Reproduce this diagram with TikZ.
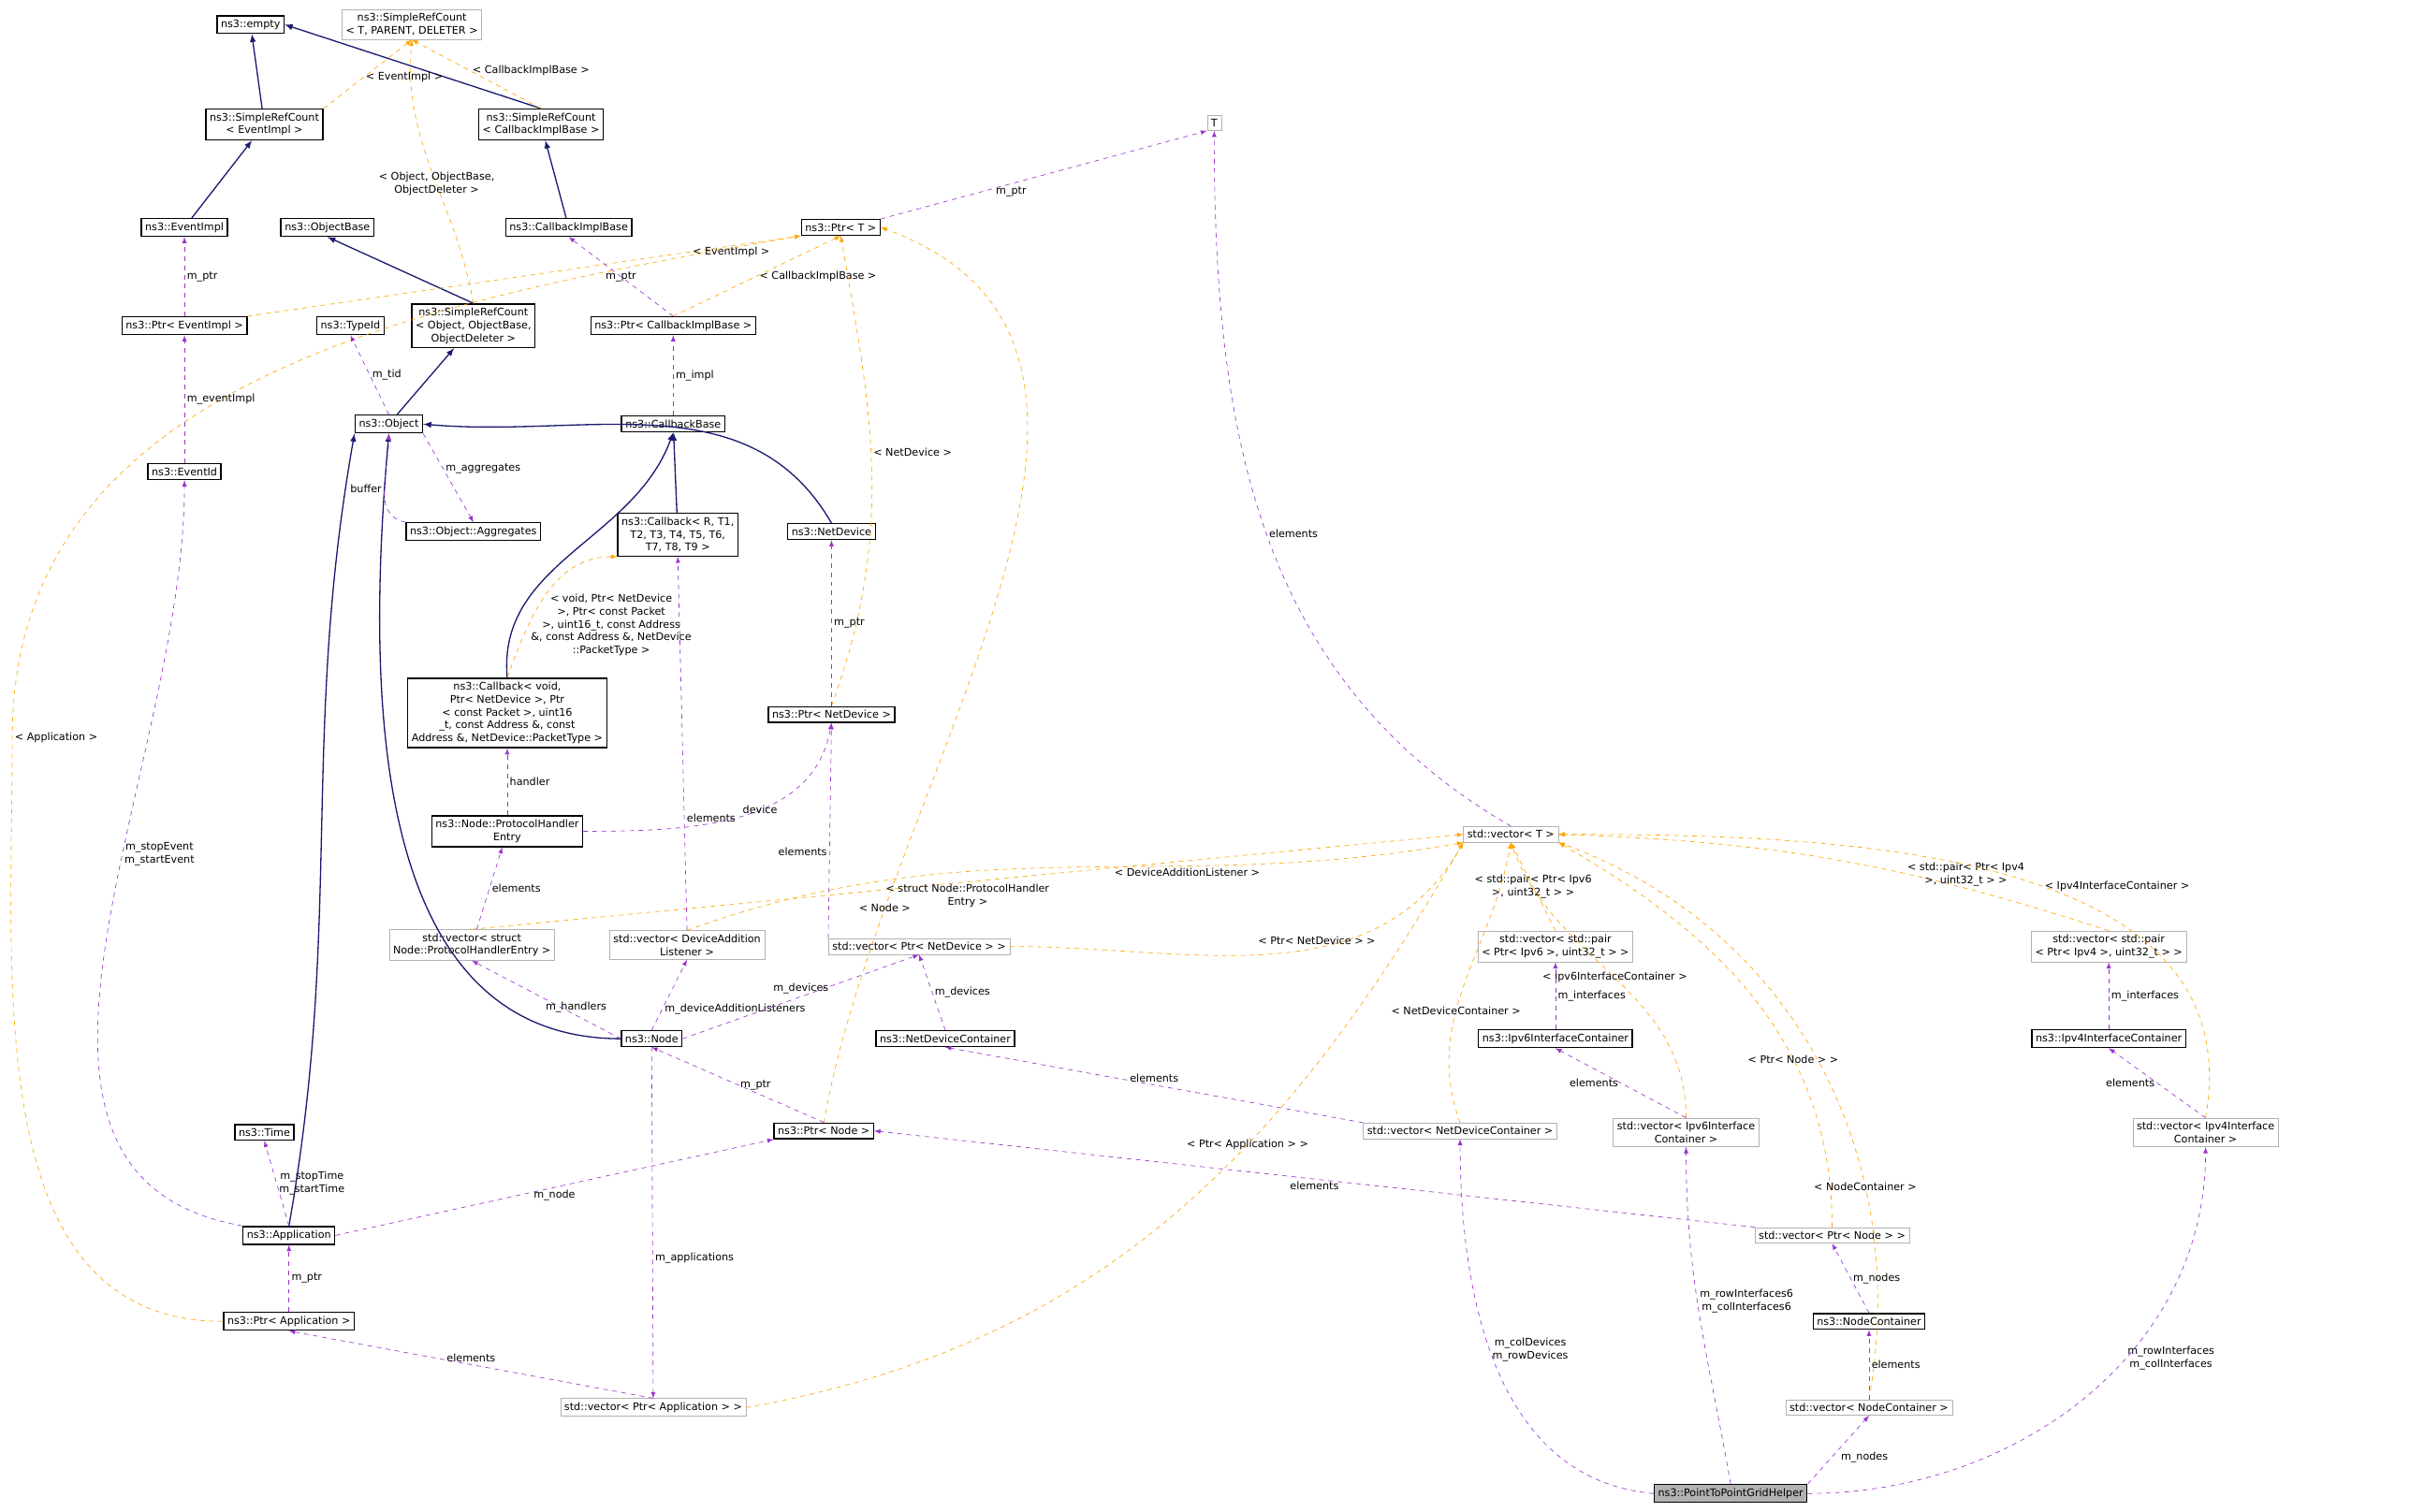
\documentclass[tikz,border=0pt]{standalone}
\usepackage{fontspec}
\setmainfont{DejaVu Sans}
\usetikzlibrary{arrows,positioning}
\definecolor{inhcol}{HTML}{191970}
\definecolor{usecol}{HTML}{9A32CD}
\definecolor{tplcol}{HTML}{FFA500}
\begin{document}
\begin{tikzpicture}[
        x=1pt,y=-1pt,
        cls/.style={
          draw=black,
          fill=white,
          font=\fontsize{6.8}{8.4}\selectfont,
          align=center,
          inner sep=2.5pt,
          thick
          },
        ext/.style={cls,draw=gray!60,thin},
        hl/.style={cls,fill=gray!60},
        inh/.style={draw=inhcol,thick,->},
        use/.style={draw=usecol,dashed,->},
        tpl/.style={draw=tplcol,dashed,->},
        lbl/.style={font=\fontsize{6.8}{8.4}\selectfont,align=center,inner sep=1.5pt},
        >=latex
        ]
        \useasboundingbox (0,0) rectangle (1568,984);
        % top rows
        \node[cls] (empty) at (163,16) {ns3::empty};
        \node[ext] (srct) at (268,16) {ns3::SimpleRefCount\\< T, PARENT, DELETER >};
        \node[cls] (srcev) at (172,81) {ns3::SimpleRefCount\\< EventImpl >};
        \node[cls] (srccb) at (352,81) {ns3::SimpleRefCount\\< CallbackImplBase >};
        \node[ext] (T) at (790,80) {T};
        \node[cls] (evimpl) at (120,148) {ns3::EventImpl};
        \node[cls] (objbase) at (213,148) {ns3::ObjectBase};
        \node[cls] (cbimpl) at (370,148) {ns3::CallbackImplBase};
        \node[cls] (ptrt) at (547,148) {ns3::Ptr< T >};
        \node[cls] (ptrev) at (120,212) {ns3::Ptr< EventImpl >};
        \node[cls] (srcobj) at (308,212) {ns3::SimpleRefCount\\< Object, ObjectBase,\\ObjectDeleter >};
        \node[cls] (typeid) at (228,212) {ns3::TypeId};
        \node[cls] (ptrcb) at (438,212) {ns3::Ptr< CallbackImplBase >};
        \node[cls] (object) at (253,276) {ns3::Object};
        \node[cls] (cbbase) at (438,276) {ns3::CallbackBase};
        \node[cls] (eventid) at (120,307) {ns3::EventId};
        \node[cls] (aggr) at (308,346) {ns3::Object::Aggregates};
        \node[cls] (cbr) at (441,348) {ns3::Callback< R, T1,\\T2, T3, T4, T5, T6,\\T7, T8, T9 >};
        \node[cls] (netdev) at (541,346) {ns3::NetDevice};
        \node[cls] (cbvoid) at (330,464) {ns3::Callback< void,\\Ptr< NetDevice >, Ptr\\< const Packet >, uint16\\\_t, const Address \&, const\\Address \&, NetDevice::PacketType >};
        \node[cls] (ptrnd) at (541,465) {ns3::Ptr< NetDevice >};
        \node[cls] (phe) at (330,541) {ns3::Node::ProtocolHandler\\Entry};
        \node[ext] (vect) at (983,543) {std::vector< T >};
        % vectors
        \node[ext] (vphe) at (307,615) {std::vector< struct\\Node::ProtocolHandlerEntry >};
        \node[ext] (vdal) at (447,615) {std::vector< DeviceAddition\\Listener >};
        \node[ext] (vpnd) at (598,616) {std::vector< Ptr< NetDevice > >};
        \node[ext] (vp6) at (1012,616) {std::vector< std::pair\\< Ptr< Ipv6 >, uint32\_t > >};
        \node[ext] (vp4) at (1372,616) {std::vector< std::pair\\< Ptr< Ipv4 >, uint32\_t > >};
        \node[cls] (node) at (424,676) {ns3::Node};
        \node[cls] (ndc) at (615,676) {ns3::NetDeviceContainer};
        \node[cls] (ic6) at (1012,676) {ns3::Ipv6InterfaceContainer};
        \node[cls] (ic4) at (1372,676) {ns3::Ipv4InterfaceContainer};
        \node[cls] (time) at (172,737) {ns3::Time};
        \node[cls] (ptrnode) at (536,736) {ns3::Ptr< Node >};
        \node[ext] (vndc) at (950,736) {std::vector< NetDeviceContainer >};
        \node[ext] (vic6) at (1097,737) {std::vector< Ipv6Interface\\Container >};
        \node[ext] (vic4) at (1435,737) {std::vector< Ipv4Interface\\Container >};
        \node[cls] (app) at (188,804) {ns3::Application};
        \node[ext] (vpnode) at (1192,804) {std::vector< Ptr< Node > >};
        \node[cls] (ptrapp) at (188,860) {ns3::Ptr< Application >};
        \node[cls] (nc) at (1216,860) {ns3::NodeContainer};
        \node[ext] (vpapp) at (425,916) {std::vector< Ptr< Application > >};
        \node[ext] (vnc) at (1216,916) {std::vector< NodeContainer >};
        \node[hl] (grid) at (1126,972) {ns3::PointToPointGridHelper};
        % inheritance
        \draw[inh] (srcev) -- (empty);
        \draw[inh] (srccb.north) -- (empty.east);
        \draw[inh] (evimpl) -- (srcev);
        \draw[inh] (cbimpl) -- (srccb);
        \draw[inh] (srcobj.north) -- (objbase.south);
        \draw[inh] (object) -- (srcobj);
        \draw[inh] (cbr) -- (cbbase);
        \draw[inh] (cbvoid.north) to[out=95,in=-110] (cbbase.south);
        \draw[inh] (netdev.north) to[out=120,in=-5] (object.east);
        \draw[inh] (node.west) to[out=180,in=-95] (object.south);
        \draw[inh] (app.north) to[out=80,in=-100] (object.south west);
        % templates
        \draw[tpl] (srcev.north east) -- node[lbl,right,pos=0.45] {< EventImpl >} (srct.south);
        \draw[tpl] (srccb.north) -- node[lbl,right,pos=0.55] {< CallbackImplBase >} (srct.south);
        \draw[tpl] (srcobj.north) to[out=100,in=-95] node[lbl,pos=0.45] {< Object, ObjectBase,\\ObjectDeleter >} (srct.south);
        \draw[tpl] (ptrev.north east) -- node[lbl,right,pos=0.8] {< EventImpl >} (ptrt.south west);
        \draw[tpl] (ptrcb.north) -- node[lbl,right,pos=0.5] {< CallbackImplBase >} (ptrt.south);
        \draw[tpl] (ptrnd.north) to[out=70,in=-80] node[lbl,pos=0.55,right] {< NetDevice >} (ptrt.south);
        \draw[tpl] (ptrnode.north) to[out=80,in=-20] node[lbl,pos=0.2] {< Node >} (ptrt.east);
        \draw[tpl] (ptrapp.west) to[out=180,in=-90] (8,480) node[lbl,right] {< Application >} to[out=90,in=190] (ptrt.south west);
        \draw[tpl] (cbvoid.north) to[out=70,in=180] node[lbl,right,pos=0.3] {< void, Ptr< NetDevice\\>, Ptr< const Packet\\>, uint16\_t, const Address\\\&, const Address \&, NetDevice\\::PacketType >} (cbr.south west);
        \draw[tpl] (vphe.north) -- node[lbl,below,pos=0.5] {< struct Node::ProtocolHandler\\Entry >} (vect.west);
        \draw[tpl] (vdal.north) to[out=20,in=190] node[lbl,below,pos=0.66] {< DeviceAdditionListener >} (vect.south west);
        \draw[tpl] (vpnd.east) to[out=0,in=-120] node[lbl,above,pos=0.6] {< Ptr< NetDevice > >} (vect.south west);
        \draw[tpl] (vp6.north) -- node[lbl,pos=0.5] {< std::pair< Ptr< Ipv6\\>, uint32\_t > >} (vect.south);
        \draw[tpl] (vp4.north) to[bend right=8] node[lbl,pos=0.25,above] {< std::pair< Ptr< Ipv4\\>, uint32\_t > >} (vect.east);
        \draw[tpl] (vndc.north) to[out=110,in=-100] node[lbl,pos=0.4] {< NetDeviceContainer >} (vect.south);
        \draw[tpl] (vic6.north) to[out=90,in=-70] node[lbl,pos=0.5] {< Ipv6InterfaceContainer >} (vect.south);
        \draw[tpl] (vic4.north) to[out=80,in=0] node[lbl,pos=0.45,right] {< Ipv4InterfaceContainer >} (vect.east);
        \draw[tpl] (vpnode.north) to[out=90,in=-30] node[lbl,pos=0.35] {< Ptr< Node > >} (vect.south east);
        \draw[tpl] (vnc.north) to[out=80,in=-20] node[lbl,pos=0.3] {< NodeContainer >} (vect.south east);
        \draw[tpl] (vpapp.east) to[out=10,in=-120] node[lbl,pos=0.62] {< Ptr< Application > >} (vect.south west);
        % members
        \draw[use] (vect.north) to[out=150,in=-90] node[lbl,pos=0.5,right] {elements} (T.south);
        \draw[use] (ptrt.north east) -- node[lbl,below,pos=0.4] {m\_ptr} (T.south west);
        \draw[use] (ptrev) -- node[lbl,right] {m\_ptr} (evimpl);
        \draw[use] (eventid) -- node[lbl,right] {m\_eventImpl} (ptrev);
        \draw[use] (ptrcb.north) -- node[lbl,pos=0.5] {m\_ptr} (cbimpl.south);
        \draw[use] (cbbase) -- node[lbl,right] {m\_impl} (ptrcb);
        \draw[use] (object.north) -- node[lbl,right] {m\_tid} (typeid.south);
        \draw[use] (object.south east) -- node[lbl,right,pos=0.4] {m\_aggregates} (aggr.north);
        \draw[use] (aggr.north west) to[out=170,in=-90] node[lbl,left] {buffer} (object.south);
        \draw[use] (ptrnd) -- node[lbl,right] {m\_ptr} (netdev);
        \draw[use] (phe) -- node[lbl,right] {handler} (cbvoid);
        \draw[use] (phe.east) to[out=0,in=-100] node[lbl,pos=0.5,above right] {device} (ptrnd.south);
        \draw[use] (vphe) -- node[lbl,right] {elements} (phe);
        \draw[use] (vdal.north) -- node[lbl,pos=0.3,right] {elements} (cbr.south);
        \draw[use] (vpnd.north west) -- node[lbl,pos=0.4,left] {elements} (ptrnd.south);
        \draw[use] (node.west) -- node[lbl,above,pos=0.3] {m\_handlers} (vphe.south);
        \draw[use] (node.north) -- node[lbl,right,pos=0.3] {m\_deviceAdditionListeners} (vdal.south);
        \draw[use] (node.east) -- node[lbl,pos=0.5,above] {m\_devices} (vpnd.south);
        \draw[use] (ndc.north) -- node[lbl,right] {m\_devices} (vpnd.south);
        \draw[use] (ic6) -- node[lbl,right] {m\_interfaces} (vp6);
        \draw[use] (ic4) -- node[lbl,right] {m\_interfaces} (vp4);
        \draw[use] (ptrnode.north) -- node[lbl,right] {m\_ptr} (node.south);
        \draw[use] (vndc.north west) -- node[lbl,above] {elements} (ndc.south);
        \draw[use] (vic6.north) -- node[lbl,left] {elements} (ic6.south);
        \draw[use] (vic4.north) -- node[lbl,left] {elements} (ic4.south);
        \draw[use] (app.north) -- node[lbl,right] {m\_stopTime\\m\_startTime} (time.south);
        \draw[use] (app.east) -- node[lbl,below] {m\_node} (ptrnode.south west);
        \draw[use] (app.north west) to[out=170,in=-90] node[lbl,right,pos=0.6] {m\_stopEvent\\m\_startEvent} (eventid.south);
        \draw[use] (vpnode.north west) -- node[lbl,pos=0.5,below] {elements} (ptrnode.east);
        \draw[use] (nc.north) -- node[lbl,right] {m\_nodes} (vpnode.south);
        \draw[use] (ptrapp) -- node[lbl,right] {m\_ptr} (app);
        \draw[use] (node.south) -- node[lbl,right,pos=0.6] {m\_applications} (vpapp.north);
        \draw[use] (vpapp.north) -- node[lbl,above] {elements} (ptrapp.south);
        \draw[use] (vnc) -- node[lbl,right] {elements} (nc);
        \draw[use] (grid.west) to[out=175,in=-90] node[lbl,pos=0.55,right] {m\_colDevices\\m\_rowDevices} (vndc.south);
        \draw[use] (grid.north) to[out=100,in=-90] node[lbl,pos=0.55,right] {m\_rowInterfaces6\\m\_colInterfaces6} (vic6.south);
        \draw[use] (grid.north east) -- node[lbl,below right] {m\_nodes} (vnc.south);
        \draw[use] (grid.east) to[out=0,in=-90] node[lbl,pos=0.6,right] {m\_rowInterfaces\\m\_colInterfaces} (vic4.south);
\end{tikzpicture}
\end{document}
